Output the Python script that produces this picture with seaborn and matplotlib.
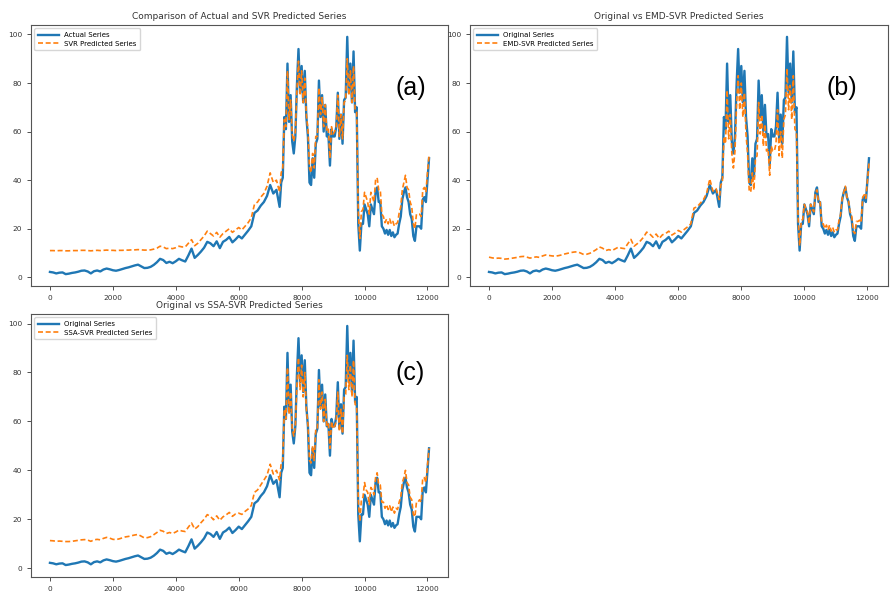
import matplotlib
matplotlib.use("Agg")
import matplotlib.pyplot as plt
import seaborn as sns
import pandas as pd

# time index: step 100 up to 7200, then step 50 up to 12050
time_index = list(range(0, 7300, 100)) + list(range(7300, 12051, 50))

actual = [
    2.2, 2.0, 1.6, 1.9, 2.0, 1.3, 1.5, 1.8, 2.0, 2.3,
    2.7, 2.8, 2.4, 1.6, 2.5, 2.8, 2.4, 3.2, 3.6, 3.3,
    2.9, 2.7, 3.0, 3.4, 3.8, 4.1, 4.5, 4.9, 5.2, 4.5,
    3.8, 3.9, 4.3, 5.1, 6.2, 7.6, 7.1, 5.9, 6.4, 5.8,
    6.6, 7.6, 7.0, 6.5, 9.0, 11.8, 8.0, 9.2, 10.6, 12.2,
    14.6, 14.0, 12.8, 14.8, 12.0, 14.6, 15.4, 16.6, 14.4, 15.6,
    17.0, 16.0, 17.6, 19.2, 21.0, 26.5, 27.5, 29.5, 31.0, 33.5,
    38.0, 34.5, 36.0,
    29, 39, 41, 66, 61, 88, 64, 75, 56, 51,
    58, 79, 94, 76, 87, 72, 85, 66, 58, 39,
    38, 49, 41, 55, 57, 81, 66, 75, 60, 71,
    58, 59, 46, 61, 58, 58, 62, 76, 57, 67,
    55, 73, 74, 99, 76, 88, 72, 93, 68, 70,
    22, 11, 22, 22, 30, 28, 26, 21, 30, 28,
    26, 35, 37, 31, 31, 21, 20, 18, 19.5, 17.5,
    19.5, 17, 18.5, 16.5, 17.5, 18, 22, 25, 32, 35,
    37, 33, 31, 26, 24, 17, 15, 21, 21, 21,
    20, 32, 33, 31, 40, 49,
]

svr_pred = [
    11.0, 11.0, 10.9, 11.0, 11.0, 10.9, 10.9, 11.0, 11.0, 11.0,
    11.1, 11.1, 11.0, 10.9, 11.0, 11.1, 11.0, 11.1, 11.2, 11.1,
    11.1, 11.0, 11.1, 11.1, 11.2, 11.2, 11.3, 11.3, 11.4, 11.3,
    11.2, 11.2, 11.3, 11.6, 12.0, 12.8, 12.5, 11.8, 12.0, 11.8,
    12.2, 12.8, 12.5, 12.5, 14.0, 15.5, 13.0, 14.0, 15.5, 17.0,
    19.0, 18.0, 17.0, 18.5, 16.5, 18.0, 19.0, 20.0, 18.5, 19.5,
    20.5, 19.5, 21.0, 22.5, 24.5, 30.0, 31.0, 33.0, 34.5, 37.5,
    43.0, 39.0, 40.0,
    35, 43, 45, 65, 62, 85, 65, 73, 59, 56,
    60, 77, 89, 75, 85, 72, 82, 67, 61, 45,
    43, 51, 45, 58, 58, 78, 67, 74, 62, 71,
    60, 61, 49, 62, 59, 60, 62, 75, 58, 67,
    57, 72, 73, 90, 75, 85, 72, 87, 69, 68,
    27, 16, 27, 28, 35, 33, 31, 26, 35, 33,
    31, 40, 41, 36, 36, 26, 25, 22.5, 24, 22,
    24, 22, 23, 21, 22, 22.5, 26.5, 29, 36, 39,
    42, 37, 36, 31, 29, 22, 20, 26, 26, 26,
    25, 36, 37, 35, 43, 50,
]

emd_svr_pred = [
    8.3, 8.0, 7.8, 7.9, 7.8, 7.5, 7.6, 7.8, 8.0, 8.2,
    8.5, 8.6, 8.3, 7.9, 8.2, 8.4, 8.2, 8.8, 9.2, 9.0,
    8.8, 8.7, 8.9, 9.2, 9.6, 9.9, 10.2, 10.4, 10.5, 10.0,
    9.4, 9.5, 9.9, 10.6, 11.4, 12.5, 12.0, 11.0, 11.4, 11.0,
    11.7, 12.4, 12.0, 11.8, 13.8, 15.6, 12.8, 13.8, 15.0, 16.5,
    18.6, 17.8, 16.5, 17.8, 16.0, 17.5, 18.0, 19.0, 17.4, 18.2,
    19.3, 18.6, 19.8, 20.8, 22.0, 28.5, 29.0, 30.5, 32.0, 34.5,
    40.5, 35.5, 36.5,
    32, 38, 39, 58, 55, 77, 57, 67, 51, 45,
    52, 71, 83, 69, 80, 66, 76, 59, 51, 36,
    35, 43, 36, 49, 50, 72, 59, 67, 54, 63,
    52, 53, 42, 54, 52, 52, 55, 69, 50, 60,
    49, 65, 67, 86, 69, 79, 65, 83, 61, 60,
    25, 13, 23, 24, 30, 28, 27, 22, 30, 28,
    27, 35, 36, 31, 31, 22, 22, 20, 21.5, 19.5,
    21.5, 19, 20.5, 18.5, 19.5, 19.5, 23.5, 26, 32.5, 35,
    37.5, 33, 31.5, 27, 25.5, 19, 18, 23, 23, 23.5,
    22.5, 33, 34, 32.5, 40, 47,
]

ssa_svr_pred = [
    11.3, 11.2, 11.0, 11.1, 11.0, 10.9, 10.9, 11.0, 11.2, 11.4,
    11.6, 11.7, 11.5, 11.0, 11.6, 11.8, 11.6, 12.2, 12.6, 12.3,
    11.8, 11.7, 12.0, 12.4, 12.8, 13.0, 13.3, 13.6, 13.8, 13.1,
    12.4, 12.5, 12.9, 13.7, 14.6, 15.5, 15.1, 14.2, 14.6, 14.2,
    14.8, 15.6, 15.2, 15.0, 16.8, 18.5, 16.0, 17.0, 18.6, 20.0,
    21.9, 21.2, 19.8, 21.4, 19.6, 21.0, 21.8, 22.8, 21.2, 22.2,
    22.5, 22.0, 23.2, 24.2, 25.6, 31.0, 32.0, 34.0, 36.0, 38.0,
    42.5, 38.5, 40.0,
    36, 43, 44, 65, 61, 82, 63, 72, 57, 54,
    58, 75, 86, 73, 83, 70, 80, 65, 59, 44,
    43, 50, 44, 57, 57, 77, 65, 72, 60, 69,
    58, 59, 49, 60, 57, 58, 60, 72, 56, 65,
    55, 70, 71, 87, 73, 83, 70, 85, 67, 66,
    28, 19, 28, 29, 35, 32, 31, 26, 33, 32,
    30, 37, 39, 34, 34, 27, 27, 24.5, 26, 24,
    25.5, 23, 25, 22.5, 24.5, 24, 27, 29, 35, 37,
    40, 35, 34, 29, 28, 22, 21, 27, 27, 28,
    27, 37, 37, 35, 42, 49,
]

df = pd.DataFrame({
    "t": time_index,
    "actual": actual,
    "svr": svr_pred,
    "emd": emd_svr_pred,
    "ssa": ssa_svr_pred,
})

panels = [
    ("Comparison of Actual and SVR Predicted Series", "Actual Series", "svr",
     "SVR Predicted Series", "(a)", [31, 25, 417, 261], (0.91, 0.76)),
    ("Original vs EMD-SVR Predicted Series", "Original Series", "emd",
     "EMD-SVR Predicted Series", "(b)", [470, 25, 418, 261], (0.89, 0.76)),
    ("Original vs SSA-SVR Predicted Series", "Original Series", "ssa",
     "SSA-SVR Predicted Series", "(c)", [31, 314, 417, 263], (0.91, 0.776)),
]

W, H = 891, 593
fig = plt.figure(figsize=(W / 100, H / 100), dpi=100)

blue = "#1f77b4"
orange = "#ff7f0e"

for title, lab1, col, lab2, tag, (px, py, pw, ph), tagpos in panels:
    ax = fig.add_axes([px / W, 1 - (py + ph) / H, pw / W, ph / H])
    sns.lineplot(data=df, x="t", y="actual", ax=ax, color=blue, lw=1.7, label=lab1)
    sns.lineplot(data=df, x="t", y=col, ax=ax, color=orange, lw=1.2,
                 dashes=False, label=lab2)
    ax.lines[-1].set_dashes((3, 1.6))
    ax.set_xlabel("")
    ax.set_ylabel("")
    ax.set_xticks([0, 2000, 4000, 6000, 8000, 10000, 12000])
    ax.set_yticks([0, 20, 40, 60, 80, 100])
    ax.tick_params(labelsize=5.3, length=3, width=0.6, colors="#333333")
    for s in ax.spines.values():
        s.set_linewidth(0.8)
        s.set_color("#555555")
    ax.set_title(title, fontsize=6.5, pad=4, color="#333333")
    ax.legend(loc="upper left", fontsize=5, handlelength=3, frameon=True,
              borderpad=0.5, labelspacing=0.4)
    ax.text(tagpos[0], tagpos[1], tag, transform=ax.transAxes, fontsize=18,
            ha="center", va="center", family=["Liberation Sans", "DejaVu Sans"])

fig.savefig("out.png", dpi=100)
